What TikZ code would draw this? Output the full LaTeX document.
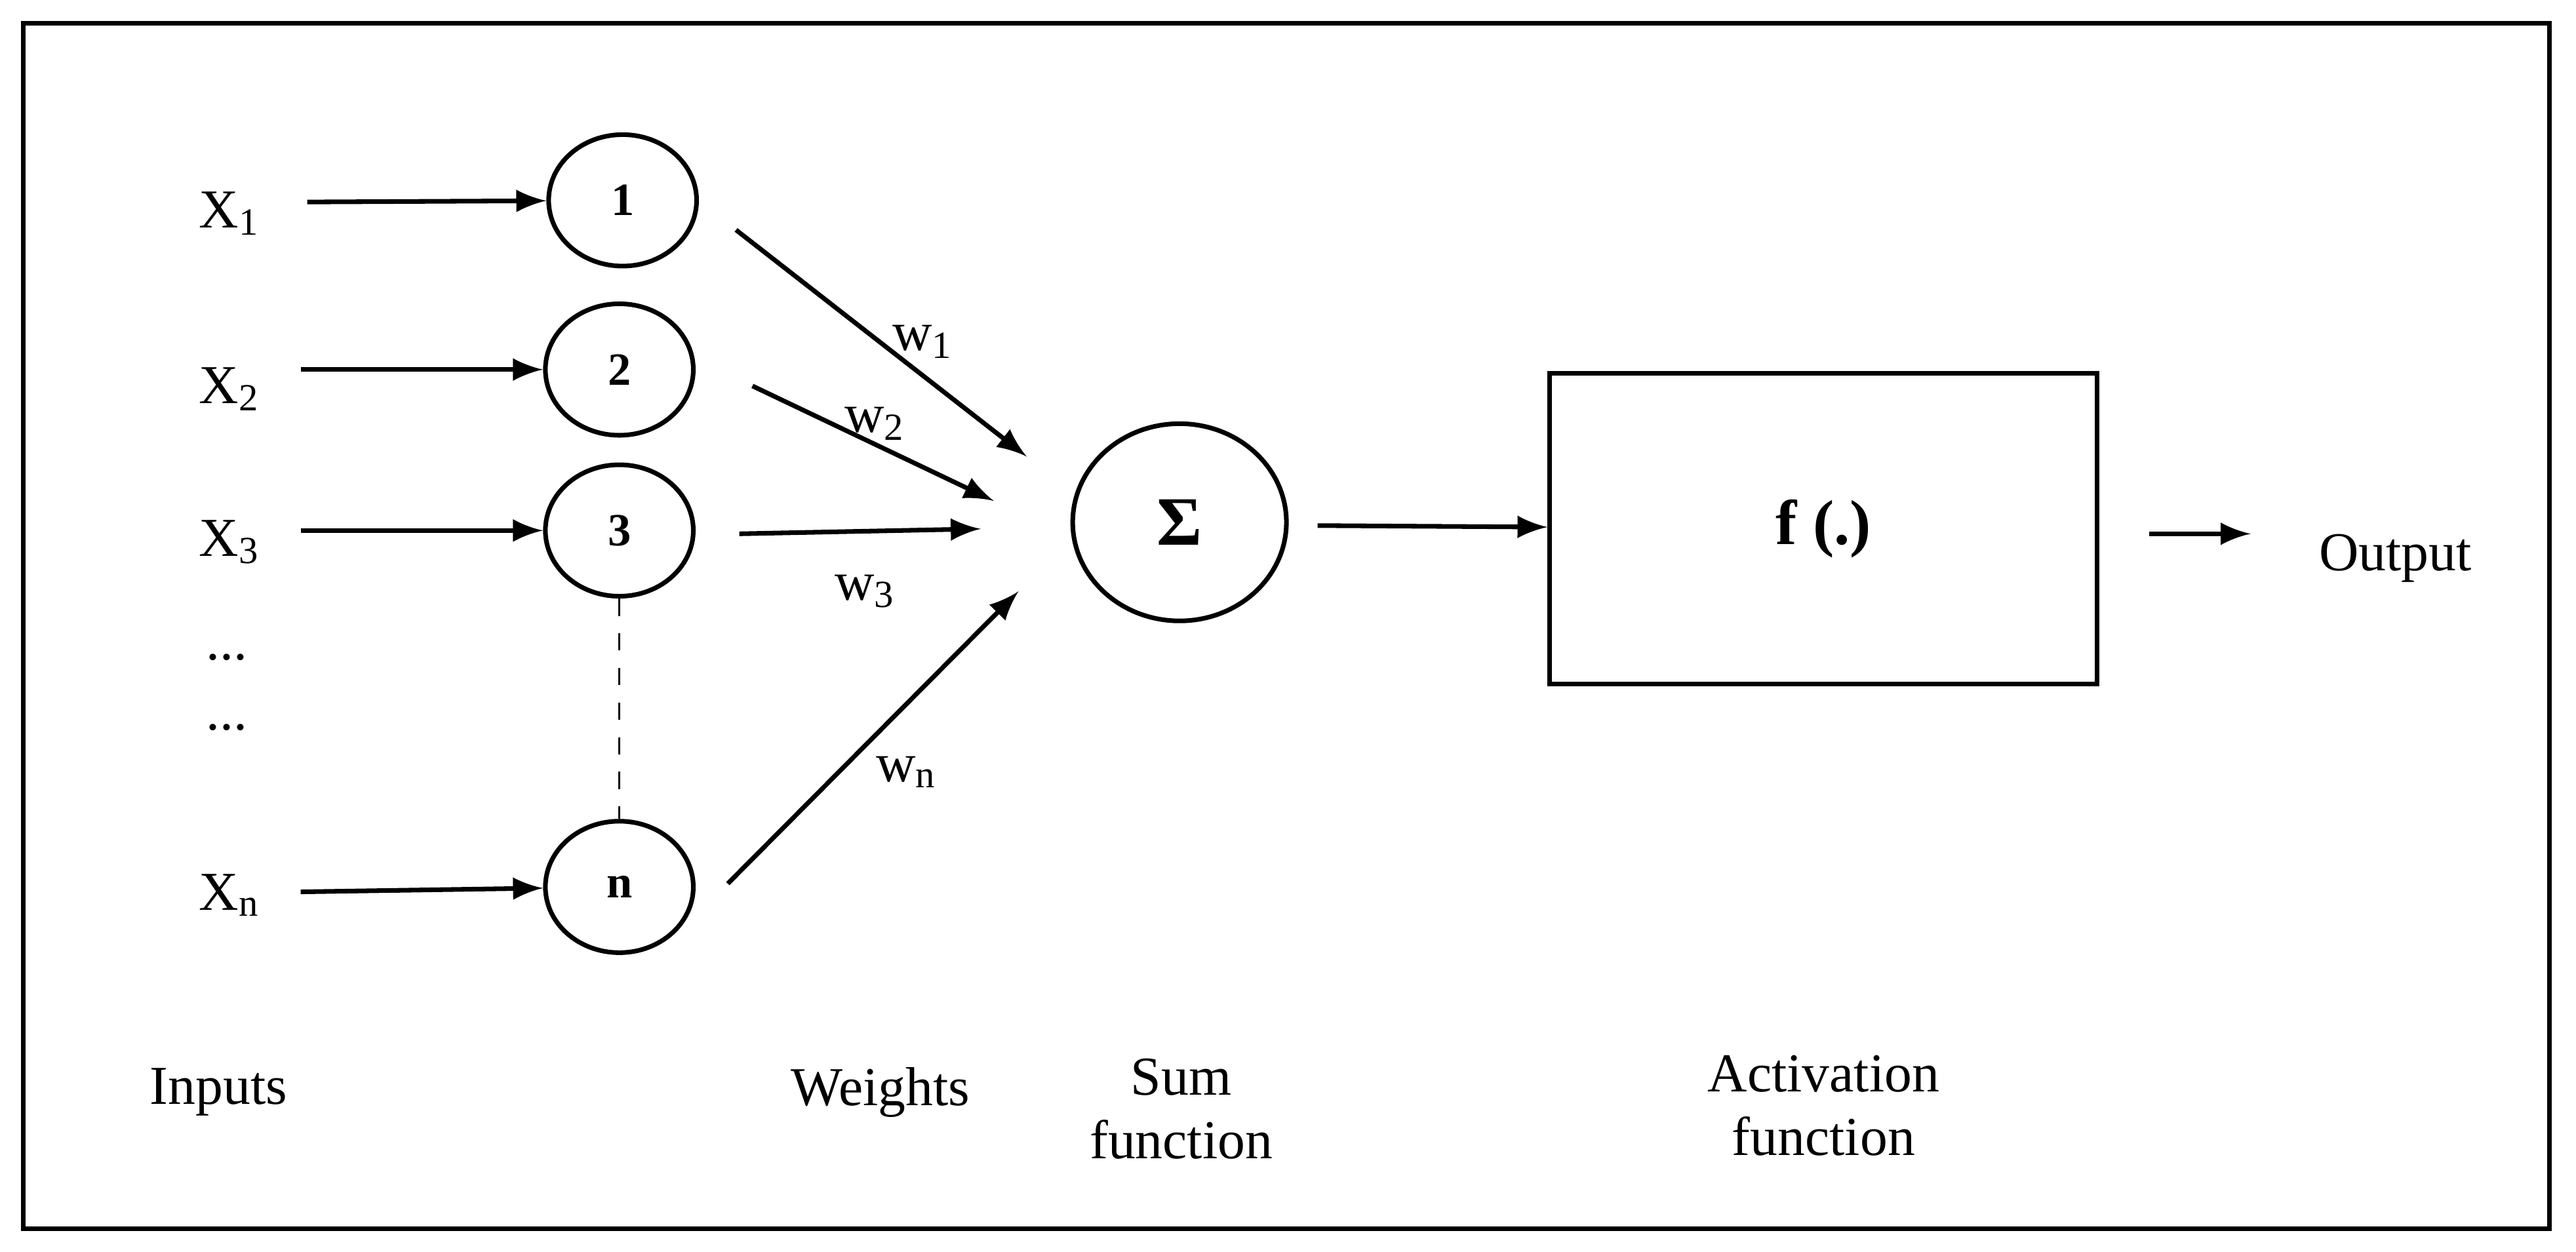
\documentclass[tikz,border=0pt]{standalone}
\usepackage{fontspec}
\setmainfont{Liberation Serif}
\usetikzlibrary{positioning}
\usetikzlibrary{shapes.geometric}
\tikzset{
	unit/.style={draw, thick, ellipse, minimum width=0.9cm, minimum height=0.8cm, font=\fontsize{8}{9}\selectfont\bfseries, inner sep=0pt},
	lbl/.style={font=\fontsize{9.5}{11}\selectfont, align=center},
	arr/.style={thick, -latex},
}
\begin{document}
\begin{tikzpicture}[x=0.01cm, y=-0.01cm]
	\useasboundingbox (0,0) rectangle (1568,762);
	\draw[thick] (14,14) rectangle (1552,748);

	% units
	\node[unit] (u1) at (379,122) {1};
	\node[unit] (u2) at (377,225) {2};
	\node[unit] (u3) at (377,323) {3};
	\node[unit] (un) at (377,540) {n};
	\draw[dashed] (u3) -- (un);

	% inputs
	\node[lbl] (x1) at (140,130) {X\textsubscript{1}};
	\node[lbl] (x2) at (140,237) {X\textsubscript{2}};
	\node[lbl] (x3) at (140,330) {X\textsubscript{3}};
	\node[lbl] (xn) at (140,545) {X\textsubscript{n}};
	\node[lbl] (d1) at (138,400) {...};
	\node[lbl] (d2) at (138,443) {...};
	\draw[arr] (187,123) -- (u1);
	\draw[arr] (183,225) -- (u2);
	\draw[arr] (183,323) -- (u3);
	\draw[arr] (183,543) -- (un);

	% sum
	\node[draw, thick, ellipse, minimum width=1.3cm, minimum height=1.2cm, font=\fontsize{12}{14}\selectfont\bfseries] (sum) at (718,318) {Σ};
	\coordinate (e1) at (625,278);
	\coordinate (e2) at (605,305);
	\coordinate (e3) at (597,322);
	\coordinate (en) at (620,360);
	\draw[arr] (448,140) -- (e1);
	\draw[arr] (458,235) -- (e2);
	\draw[arr] (450,325) -- (e3);
	\draw[arr] (443,538) -- (en);
	\node[lbl] (w1) at (562,208) {w\textsubscript{1}};
	\node[lbl] (w2) at (533,258) {w\textsubscript{2}};
	\node[lbl] (w3) at (527,360) {w\textsubscript{3}};
	\node[lbl] (wn) at (552,470) {w\textsubscript{n}};

	% activation
	\node[draw, thick, minimum width=3.33cm, minimum height=1.89cm, font=\fontsize{11}{13}\selectfont\bfseries] (act) at (1110,322) {f (.)};
	\draw[arr] (802,320) -- (act);
	\node[lbl] (out) at (1458,340) {Output};
	\coordinate (o1) at (1308,325);
	\draw[arr] (o1) -- (1370,325);

	% captions
	\node[lbl] (cin) at (133,665) {Inputs};
	\node[lbl] (cw) at (536,665) {Weights};
	\node[lbl] (cs) at (719,675) {Sum\\function};
	\node[lbl] (ca) at (1110,673) {Activation\\function};
\end{tikzpicture}
\end{document}
